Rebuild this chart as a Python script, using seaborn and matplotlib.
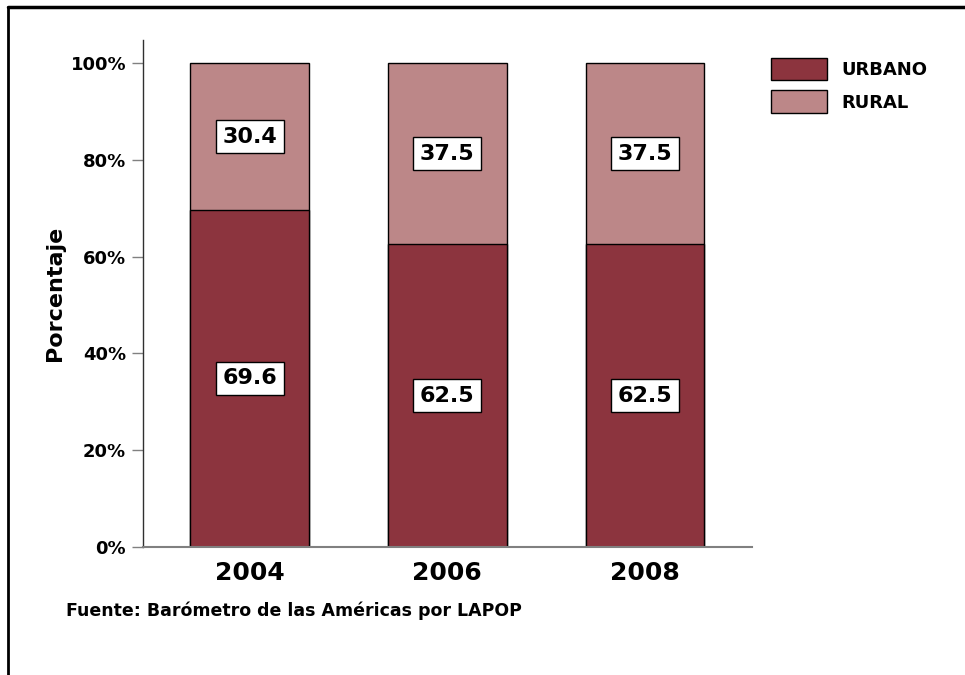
import pandas as pd
import matplotlib.pyplot as plt
import matplotlib.patches as mpatches
from matplotlib.lines import Line2D
import seaborn as sns

# datos
anios = ['2004', '2006', '2008']
urbano = [69.6, 62.5, 62.5]
rural = [30.4, 37.5, 37.5]

df = pd.DataFrame({'anio': anios, 'urbano': urbano, 'rural': rural})
df['total'] = df['urbano'] + df['rural']

col_urbano = '#8C343E'
col_rural = '#BC8788'

sns.set_style('white')
plt.rcParams['font.family'] = ['DejaVu Sans']
plt.rcParams['text.color'] = 'black'
plt.rcParams['axes.labelcolor'] = 'black'

fig = plt.figure(figsize=(9.65, 6.75), dpi=100)
ax = fig.add_axes([0.148, 0.190, 0.631, 0.751])

# barras apiladas: total (rural) y urbano encima
sns.barplot(data=df, x='anio', y='total', color=col_rural, width=0.6,
            edgecolor='black', linewidth=1, saturation=1, ax=ax)
sns.barplot(data=df, x='anio', y='urbano', color=col_urbano, width=0.6,
            edgecolor='black', linewidth=1, saturation=1, ax=ax)

# etiquetas
caja = dict(boxstyle='square,pad=0.3', facecolor='white', edgecolor='black', linewidth=1)
for i, row in df.iterrows():
    ax.text(i, row['urbano'] / 2, f"{row['urbano']:.1f}", ha='center', va='center',
            fontsize=16, fontweight='bold', color='black', bbox=caja)
    ax.text(i, row['urbano'] + row['rural'] / 2, f"{row['rural']:.1f}", ha='center', va='center',
            fontsize=16, fontweight='bold', color='black', bbox=caja)

ax.set_xlim(-0.54, 2.54)
ax.set_ylim(0, 104.8)
ax.set_yticks([0, 20, 40, 60, 80, 100])
ax.set_yticklabels(['0%', '20%', '40%', '60%', '80%', '100%'], fontsize=13, fontweight='bold')
ax.set_xticks(range(3))
ax.set_xticklabels(anios, fontsize=18, fontweight='bold')
ax.tick_params(axis='y', length=8, width=1, color='#808080', labelcolor='black', pad=4, left=True)
ax.tick_params(axis='x', length=0, pad=10, labelcolor='black')
ax.set_xlabel('')
ax.set_ylabel('Porcentaje', fontsize=16, fontweight='bold', labelpad=4)

for s in ['top', 'right']:
    ax.spines[s].set_visible(False)
ax.spines['left'].set_color('#303030')
ax.spines['bottom'].set_color('#808080')
ax.spines['left'].set_linewidth(1)
ax.spines['bottom'].set_linewidth(1.5)

# leyenda
handles = [mpatches.Patch(facecolor=col_urbano, edgecolor='black', label='URBANO'),
           mpatches.Patch(facecolor=col_rural, edgecolor='black', label='RURAL')]
fig.legend(handles=handles, loc='upper left', bbox_to_anchor=(0.791, 0.925), frameon=False,
           prop={'weight': 'bold', 'size': 13}, handlelength=3.1, handleheight=1.55,
           handletextpad=0.85, labelspacing=0.55, borderaxespad=0)

fig.text(0.068, 0.088, 'Fuente: Barómetro de las Américas por LAPOP', fontsize=12.5, fontweight='bold')

# marco
fig.add_artist(Line2D([0.008, 1.0], [0.989, 0.989], color='black', linewidth=2.5, transform=fig.transFigure))
fig.add_artist(Line2D([0.008, 0.008], [0.0, 0.989], color='black', linewidth=2, transform=fig.transFigure))

fig.savefig('out.png', dpi=100)
